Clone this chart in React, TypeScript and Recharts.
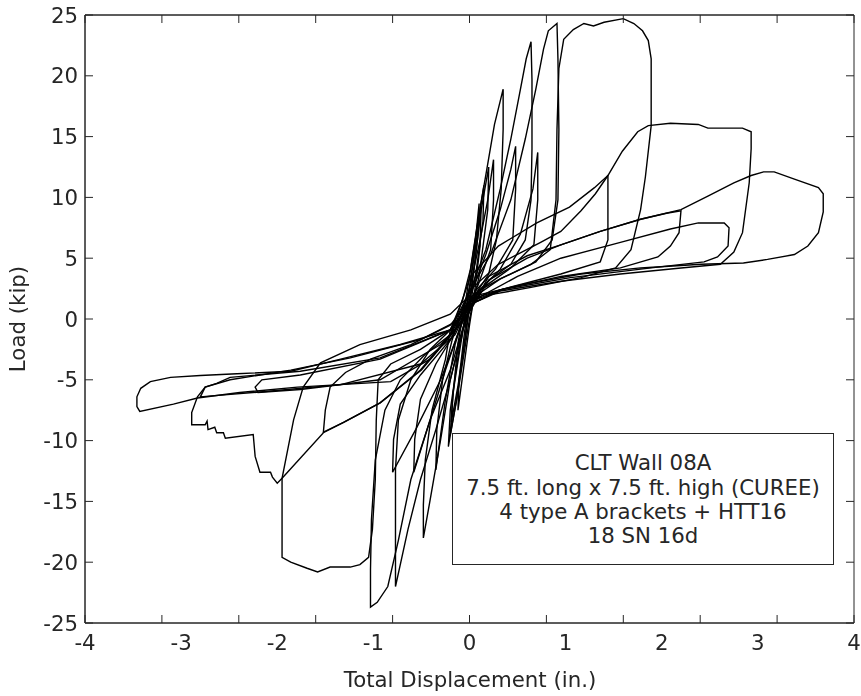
import React from 'react';
import { LineChart, Line, XAxis, YAxis, ReferenceArea } from 'recharts';

type Pt = [number, number];

// Tick labels (every 1 in.) and tick marks (every 0.8 in., as in the original figure)
const xTickLabels = [-4, -3, -2, -1, 0, 1, 2, 3, 4];
const xTickMarks = [-4, -3.2, -2.4, -1.6, -0.8, 0, 0.8, 1.6, 2.4, 3.2, 4];
const yTicks = [-25, -20, -15, -10, -5, 0, 5, 10, 15, 20, 25];
const xDomain = [-4, 4];
const yDomain = [-25, 25];
const noteLines = [
  'CLT Wall 08A',
  '7.5 ft. long x 7.5 ft. high (CUREE)',
  '4 type A brackets + HTT16',
  '18 SN 16d',
];

// Hysteresis loops: [displacement (in.), load (kip)]
const smallLoop1: Pt[] = [
  [-0.05, -1], [0, 1.5], [0.06, 5], [0.12, 9], [0.11, 6], [0.05, 2], [0, -0.5],
  [-0.06, -4], [-0.12, -7.5], [-0.11, -5], [-0.05, -1],
];
const smallLoop2: Pt[] = [
  [-0.08, -1.5], [0, 2.5], [0.1, 8], [0.2, 12.5], [0.19, 9], [0.1, 3.5], [0, 0],
  [-0.1, -5], [-0.22, -10.5], [-0.2, -7.5], [-0.1, -2], [-0.08, -1.5],
];
const smallLoop3: Pt[] = [
  [-0.1, -2.5], [-0.02, 1.5], [0.05, 5.5], [0.1, 9.5], [0.09, 7], [0.03, 3], [-0.04, -1.5],
  [-0.12, -5.5], [-0.19, -8.5], [-0.17, -6], [-0.1, -2.5],
];
const smallLoop4: Pt[] = [
  [-0.12, -2], [-0.03, 2], [0.06, 6.5], [0.15, 11], [0.14, 8], [0.07, 4], [-0.03, -0.5],
  [-0.13, -6.5], [-0.2, -9.5], [-0.18, -7], [-0.12, -2],
];
const cycleA: Pt[] = [
  [-0.2, -0.9], [-0.07, 1.6], [0.01, 4.1], [0.09, 8.2], [0.18, 12.3], [0.26, 16.0], [0.35, 18.9],
  [0.35, 15.6], [0.33, 10.7], [0.28, 6.5], [0.2, 3.7], [0.06, 2.0], [-0.07, -0.9], [-0.2, -5.0],
  [-0.3, -9.9], [-0.41, -14.9], [-0.48, -18.0], [-0.48, -15.3], [-0.46, -11.6], [-0.39, -7.5],
  [-0.25, -3.3], [-0.2, -0.9],
];
const trail1: Pt[] = [
  [-0.18, -1.7], [-0.07, 0.8], [0.01, 2.8], [0.11, 6.5], [0.19, 9.8], [0.25, 13.1], [0.25, 9.8],
  [0.22, 5.7], [0.09, 2.8], [-0.04, 0.8], [-0.15, -2.1], [-0.25, -6.6], [-0.35, -12.4],
  [-0.34, -9.1], [-0.28, -5.0], [-0.18, -1.7],
];
const cycleB: Pt[] = [
  [-0.2, -0.9], [0.01, 2.4], [0.17, 5.7], [0.32, 10.7], [0.43, 14.8], [0.53, 18.9], [0.59, 21.4],
  [0.64, 22.8], [0.65, 19.7], [0.65, 14.0], [0.64, 9.8], [0.58, 6.5], [0.43, 4.5], [0.22, 3.3],
  [0.06, 2.0], [-0.07, -0.9], [-0.2, -5.0], [-0.35, -9.1], [-0.51, -13.2], [-0.64, -17.3],
  [-0.72, -20.2], [-0.77, -22.0], [-0.77, -18.2], [-0.77, -12.4], [-0.74, -8.3], [-0.61, -5.0],
  [-0.41, -2.5], [-0.2, -0.9],
];
const trail2: Pt[] = [
  [-0.18, -1.5], [-0.01, 1.6], [0.17, 5.3], [0.32, 9.0], [0.43, 12.3], [0.48, 14.2], [0.48, 10.7],
  [0.45, 6.5], [0.27, 4.1], [0.06, 2.3], [-0.09, -0.5], [-0.25, -4.2], [-0.41, -8.3],
  [-0.58, -12.6], [-0.57, -9.9], [-0.51, -6.6], [-0.35, -3.7], [-0.18, -1.5],
];
const cycleC: Pt[] = [
  [-0.2, -1.3], [0.01, 2.4], [0.22, 5.3], [0.43, 9.8], [0.58, 14.8], [0.69, 18.9], [0.77, 22.2],
  [0.82, 23.7], [0.91, 24.3], [0.92, 21.4], [0.93, 15.6], [0.92, 9.8], [0.86, 6.5], [0.69, 4.7],
  [0.32, 3.3], [0.09, 2.3], [-0.04, 0], [-0.2, -4.2], [-0.41, -8.3], [-0.61, -13.2],
  [-0.74, -18.2], [-0.85, -22.0], [-0.96, -23.3], [-1.03, -23.7], [-1.03, -20.6], [-1.02, -16.5],
  [-0.98, -11.6], [-0.88, -7.5], [-0.72, -5.0], [-0.46, -2.9], [-0.2, -1.3],
];
const trail3: Pt[] = [
  [-0.2, -1.7], [0.06, 2.0], [0.32, 4.1], [0.53, 7.0], [0.66, 10.7], [0.71, 13.7], [0.71, 9.8],
  [0.67, 6.1], [0.43, 4.2], [0.11, 2.4], [-0.07, -0.2], [-0.3, -5.0], [-0.56, -9.1],
  [-0.8, -12.6], [-0.79, -9.9], [-0.72, -7.0], [-0.51, -4.6], [-0.2, -1.7],
];
const cycleD: Pt[] = [
  [-0.2, -1.3], [0.01, 1.6], [0.32, 3.3], [0.64, 4.5], [0.84, 5.7], [0.9, 9.8], [0.91, 15.6],
  [0.93, 20.6], [0.98, 23.0], [1.08, 23.8], [1.19, 24.3], [1.29, 24.1], [1.4, 24.4], [1.6, 24.7],
  [1.71, 24.3], [1.8, 23.7], [1.86, 22.9], [1.89, 21.4], [1.89, 15.9], [1.83, 11.7], [1.78, 9.0],
  [1.68, 5.7], [1.52, 4.2], [1.16, 3.4], [0.64, 2.6], [0.22, 2.0], [0.01, 1.2], [-0.2, -0.9],
  [-0.51, -2.5], [-0.82, -3.7], [-0.95, -5.0], [-0.97, -8.3], [-0.98, -13.2], [-1.01, -17.3],
  [-1.05, -19.6], [-1.14, -20.2], [-1.24, -20.4], [-1.45, -20.4], [-1.58, -20.8], [-1.69, -20.5],
  [-1.86, -20.0], [-1.95, -19.6], [-1.95, -16.5], [-1.95, -13.1], [-1.83, -8.3], [-1.73, -5.6],
  [-1.55, -3.6], [-1.14, -2.1], [-0.61, -0.9], [-0.2, 0.4], [0.01, 2.0],
];
const cycleE: Pt[] = [
  [-0.2, -1.3], [0.01, 3.5], [0.3, 6.0], [0.7, 7.9], [1.04, 9.2], [1.3, 10.8], [1.44, 11.8],
  [1.44, 9.8], [1.44, 6.5], [1.36, 4.7], [0.95, 3.7], [0.32, 2.4], [0.01, 1.6], [-0.2, -0.5],
  [-0.61, -2.1], [-1.03, -3.3], [-1.29, -4.4], [-1.45, -5.6], [-1.5, -7.5], [-1.52, -9.3],
  [-1.31, -8.5], [-0.93, -6.9], [-0.51, -4.2], [-0.2, -1.3],
];
const cycleF: Pt[] = [
  [-0.15, -0.9], [0.01, 2.4], [0.3, 4.5], [0.74, 6.3], [0.95, 7.2], [1.16, 8.9], [1.31, 10.3],
  [1.44, 11.8], [1.59, 13.8], [1.75, 15.4], [1.86, 15.9], [2.09, 16.1], [2.38, 16.0], [2.48, 15.7],
  [2.84, 15.7], [2.93, 15.4], [2.93, 14.0], [2.91, 11.2], [2.84, 7.1], [2.75, 5.5], [2.61, 4.5],
  [2.2, 4.2], [1.57, 3.7], [0.95, 3.1], [0.32, 2.3], [0.01, 1.2], [-0.2, -0.9], [-0.72, -2.1],
  [-1.34, -3.3], [-1.86, -4.3], [-2.42, -4.5], [-2.8, -4.65], [-3.11, -4.8], [-3.32, -5.15],
  [-3.42, -5.7], [-3.46, -6.4], [-3.46, -7.2], [-3.43, -7.6], [-3.08, -7.0], [-2.83, -6.5],
  [-2.39, -6.05], [-1.79, -5.6], [-0.82, -5.15], [-0.41, -3.3], [-0.15, -0.9],
];
const cycleG: Pt[] = [
  [-0.04, 0.1], [0.2, 3.5], [0.6, 5.2], [0.95, 6.1], [1.36, 7.2], [1.78, 8.2], [2.2, 9.0],
  [2.48, 10.1], [2.75, 11.2], [2.93, 11.8], [3.06, 12.1], [3.17, 12.1], [3.38, 11.5], [3.63, 10.8],
  [3.68, 10.3], [3.68, 8.8], [3.63, 7.1], [3.52, 6.0], [3.38, 5.3], [3.1, 4.9], [2.85, 4.6],
  [2.41, 4.5], [1.78, 4.2], [1.16, 3.7], [0.53, 2.8], [0.11, 2.0], [-0.09, 0], [-0.51, -1.7],
  [-1.24, -3.2], [-1.86, -4.2], [-2.49, -5.0], [-2.75, -5.6], [-2.83, -6.4], [-2.89, -7.7],
  [-2.89, -8.7], [-2.75, -8.7], [-2.73, -8.4], [-2.72, -9.1], [-2.65, -8.9], [-2.63, -9.35],
  [-2.56, -9.35], [-2.54, -9.8], [-2.25, -9.5], [-2.23, -11.3], [-2.18, -12.6], [-2.07, -12.6],
  [-2.05, -13.0], [-2.0, -13.5], [-1.95, -13.1], [-1.52, -9.35], [-1.31, -8.5], [-0.93, -6.9],
  [-0.5, -4.2], [-0.04, 0.1],
];
const cycleH: Pt[] = [
  [-0.04, 0.1], [0.2, 3.2], [0.6, 5.0], [0.95, 6.1], [1.36, 7.2], [1.78, 8.2], [2.05, 8.7],
  [2.2, 8.9], [2.18, 7.1], [2.09, 6.0], [1.96, 5.1], [1.57, 4.2], [0.95, 3.5], [0.32, 2.4],
  [0.01, 1.2], [-0.2, -0.9], [-0.93, -3.3], [-1.76, -4.6], [-2.16, -5.0], [-2.23, -5.6],
  [-2.2, -6.05], [-1.76, -5.8], [-0.93, -5.0], [-0.3, -2.1], [-0.04, 0.1],
];
const cycleI: Pt[] = [
  [-0.15, -1.3], [0.01, 1.4], [0.5, 3.5], [0.95, 5.0], [1.57, 6.3], [2.09, 7.4], [2.38, 7.9],
  [2.65, 7.9], [2.7, 7.5], [2.69, 6.0], [2.58, 5.1], [2.44, 4.7], [1.89, 4.2], [1.05, 3.4],
  [0.32, 2.4], [0.01, 1.4], [-0.2, -0.9], [-0.93, -3.2], [-1.76, -4.3], [-2.49, -4.8],
  [-2.63, -5.3], [-2.75, -5.6], [-2.8, -6.4], [-2.18, -6.0], [-1.34, -5.4], [-0.51, -3.7],
  [-0.15, -1.3],
];

const cycles: Pt[][] = [
  smallLoop1, smallLoop2, smallLoop3, smallLoop4, cycleA, trail1, cycleB, trail2, cycleC, trail3,
  cycleD, cycleE, cycleF, cycleG, cycleH, cycleI,
];

// invisible series spanning the domain so the frame-only axes are bound to data
const frameRows = [
  { x: xDomain[0], y: yDomain[0] },
  { x: xDomain[1], y: yDomain[1] },
];

const W = 861;
const H = 696;
const MARGIN = { top: 0, right: 7, left: 0, bottom: 0 };
const Y_AXIS_W = 85;
const TOP_H = 15;
const PLOT_LEFT = MARGIN.left + Y_AXIS_W;
const PLOT_RIGHT = W - MARGIN.right;
const AX = '#262626';
const FF = '"DejaVu Sans", Verdana, sans-serif';
const FS = 21.3;
const TICK = 8;
const Y_GAP = 7;

const toRows = (c: Pt[]) => c.map(([x, y]) => ({ x, y }));
const NoLabel = () => <g />;

// Y tick: label on the left, plus inward tick marks on the left and right edges of the frame
const YTick = (props: any) => {
  const { y, payload } = props;
  return (
    <g>
      <text
        x={PLOT_LEFT - Y_GAP} y={y} dy="0.355em" textAnchor="end"
        fill={AX} fontSize={FS} fontFamily={FF}
      >
        {payload.value}
      </text>
      <line x1={PLOT_LEFT} x2={PLOT_LEFT + TICK} y1={y} y2={y} stroke={AX} />
      <line x1={PLOT_RIGHT} x2={PLOT_RIGHT - TICK} y1={y} y2={y} stroke={AX} />
    </g>
  );
};

export default function App() {
  return (
    <div style={{ position: 'fixed', left: 0, top: 0, width: W, height: H, overflow: 'hidden' }}>
      <LineChart width={W} height={H} margin={MARGIN}>
        {/* bottom edge of the frame with inward tick marks (closest to the plot) */}
        <XAxis
          xAxisId="tb" dataKey="x" type="number" domain={xDomain} allowDataOverflow
          ticks={xTickMarks} interval={0} tick={NoLabel} height={1} tickSize={-TICK}
          axisLine={{ stroke: AX }} tickLine={{ stroke: AX }}
        />
        {/* top edge of the frame with inward tick marks */}
        <XAxis
          xAxisId="tt" orientation="top" dataKey="x" type="number" domain={xDomain} allowDataOverflow
          ticks={xTickMarks} interval={0} tick={NoLabel} height={TOP_H} tickSize={-TICK}
          axisLine={{ stroke: AX }} tickLine={{ stroke: AX }}
        />
        {/* bottom labels */}
        <XAxis
          xAxisId="x" dataKey="x" type="number" domain={xDomain} allowDataOverflow
          ticks={xTickLabels} interval={0} tickLine={false} tickSize={0} tickMargin={11} height={72}
          axisLine={false} tick={{ fill: AX, fontSize: FS, fontFamily: FF }}
        />
        {/* left labels + tick marks */}
        <YAxis
          yAxisId="y" type="number" domain={yDomain} allowDataOverflow ticks={yTicks} interval={0}
          tickLine={false} tickSize={0} tickMargin={Y_GAP} width={Y_AXIS_W}
          axisLine={{ stroke: AX }} tick={YTick}
        />
        {/* plot frame */}
        <ReferenceArea
          xAxisId="x" yAxisId="y" x1={xDomain[0]} x2={xDomain[1]} y1={yDomain[0]} y2={yDomain[1]}
          fill="none" fillOpacity={0} stroke={AX} strokeWidth={1} ifOverflow="visible"
        />
        <Line
          xAxisId="tb" yAxisId="y" data={frameRows} dataKey="y" stroke="none"
          dot={false} activeDot={false} isAnimationActive={false}
        />
        <Line
          xAxisId="tt" yAxisId="y" data={frameRows} dataKey="y" stroke="none"
          dot={false} activeDot={false} isAnimationActive={false}
        />
        {cycles.map((c, i) => (
          <Line
            key={i} xAxisId="x" yAxisId="y" data={toRows(c)} dataKey="y" type="linear"
            stroke="#000" strokeWidth={1.4} dot={false} activeDot={false} isAnimationActive={false}
          />
        ))}
      </LineChart>
      <svg
        width={W} height={H}
        style={{ position: 'absolute', left: 0, top: 0, pointerEvents: 'none' }}
        fontFamily={FF} fontSize={FS} fill={AX}
      >
        <text x={470} y={687} textAnchor="middle">Total Displacement (in.)</text>
        <text x={25} y={319} textAnchor="middle" transform="rotate(-90, 25, 319)">Load (kip)</text>
        <rect x={452.5} y={433.5} width={381} height={131} fill="#fff" stroke={AX} strokeWidth={1} />
        {noteLines.map((t, i) => (
          <text key={t} x={643} y={470.4 + i * 24.2} textAnchor="middle">{t}</text>
        ))}
      </svg>
    </div>
  );
}
